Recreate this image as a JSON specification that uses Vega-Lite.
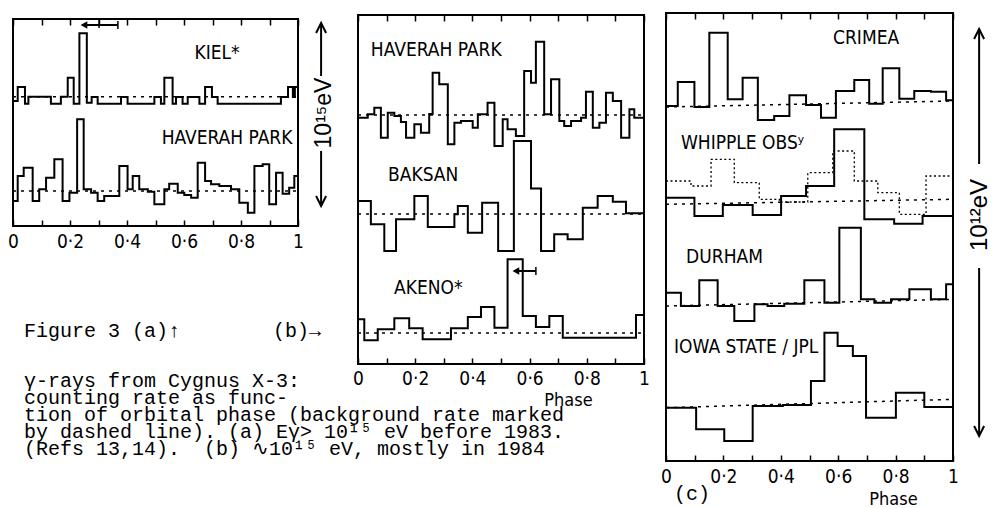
{
  "$schema": "https://vega.github.io/schema/vega-lite/v6.json",
  "background": "white",
  "padding": {"left": 7, "top": 12, "right": 0, "bottom": 0},
  "bounds": "flush",
  "spacing": 22,
  "config": {
    "view": {"stroke": null},
    "axis": {"labelFont": "Liberation Sans Narrow, DejaVu Sans Condensed, Liberation Sans, sans-serif", "labelFontSize": 19, "labelColor": "#000", "tickColor": "#000", "tickWidth": 1.5, "domain": false, "grid": false, "titleFont": "Liberation Sans Narrow, DejaVu Sans Condensed, Liberation Sans, sans-serif", "titleFontSize": 18, "titleFontWeight": "normal", "titleColor": "#000"},
    "text": {"color": "#000"}
  },
  "datasets": {
    "histA": [
      {"s":"KIEL","p":0,"v":125},{"s":"KIEL","p":0.0165,"v":139},{"s":"KIEL","p":0.042,"v":122.3},{"s":"KIEL","p":0.054,"v":129.3},{"s":"KIEL","p":0.133,"v":122.3},{"s":"KIEL","p":0.168,"v":129.3},{"s":"KIEL","p":0.192,"v":148.3},{"s":"KIEL","p":0.213,"v":122.3},{"s":"KIEL","p":0.233,"v":192.7},{"s":"KIEL","p":0.259,"v":123.3},{"s":"KIEL","p":0.276,"v":129},{"s":"KIEL","p":0.297,"v":122.3},{"s":"KIEL","p":0.379,"v":129},{"s":"KIEL","p":0.402,"v":122.3},{"s":"KIEL","p":0.496,"v":129},{"s":"KIEL","p":0.519,"v":122.3},{"s":"KIEL","p":0.531,"v":148.3},{"s":"KIEL","p":0.56,"v":122.3},{"s":"KIEL","p":0.572,"v":129},{"s":"KIEL","p":0.595,"v":122.3},{"s":"KIEL","p":0.613,"v":129},{"s":"KIEL","p":0.654,"v":122.3},{"s":"KIEL","p":0.674,"v":139},{"s":"KIEL","p":0.698,"v":129},{"s":"KIEL","p":0.718,"v":122.3},{"s":"KIEL","p":0.94,"v":129},{"s":"KIEL","p":0.965,"v":139},{"s":"KIEL","p":0.982,"v":129},{"s":"KIEL","p":0.989,"v":139},{"s":"KIEL","p":1,"v":139},
      {"s":"HP","p":0,"v":25},{"s":"HP","p":0.0165,"v":50},{"s":"HP","p":0.0375,"v":58.3},{"s":"HP","p":0.069,"v":25},{"s":"HP","p":0.092,"v":36.7},{"s":"HP","p":0.116,"v":48.3},{"s":"HP","p":0.145,"v":66.7},{"s":"HP","p":0.174,"v":25},{"s":"HP","p":0.198,"v":33.3},{"s":"HP","p":0.225,"v":106.7},{"s":"HP","p":0.248,"v":36.7},{"s":"HP","p":0.274,"v":33.3},{"s":"HP","p":0.297,"v":25},{"s":"HP","p":0.32,"v":30},{"s":"HP","p":0.373,"v":60},{"s":"HP","p":0.402,"v":36.7},{"s":"HP","p":0.42,"v":50},{"s":"HP","p":0.443,"v":36.7},{"s":"HP","p":0.473,"v":34.3},{"s":"HP","p":0.496,"v":21.7},{"s":"HP","p":0.531,"v":36.7},{"s":"HP","p":0.548,"v":42.3},{"s":"HP","p":0.578,"v":33.3},{"s":"HP","p":0.601,"v":31},{"s":"HP","p":0.625,"v":28.3},{"s":"HP","p":0.648,"v":63.3},{"s":"HP","p":0.674,"v":45},{"s":"HP","p":0.695,"v":41.7},{"s":"HP","p":0.724,"v":40},{"s":"HP","p":0.765,"v":36.7},{"s":"HP","p":0.794,"v":23.3},{"s":"HP","p":0.824,"v":13.3},{"s":"HP","p":0.847,"v":60},{"s":"HP","p":0.876,"v":61.7},{"s":"HP","p":0.899,"v":21.7},{"s":"HP","p":0.923,"v":53.3},{"s":"HP","p":0.946,"v":32.3},{"s":"HP","p":0.969,"v":38.3},{"s":"HP","p":0.987,"v":50},{"s":"HP","p":1,"v":50}
    ],
    "baseA": [{"s":"KIEL","v0":129.3,"v1":129.3},{"s":"HP","v0":35,"v1":35}],
    "labA": [{"t":"KIEL*","p":0.716,"v":167},{"t":"HAVERAH PARK","p":0.751,"v":82}],
    "capA": [
      {"t":"Figure 3 (a)↑","p":0.0386,"v":-105},
      {"t":"(b)→","p":0.912,"v":-105}
    ],
    "capBlock": [
      {"t":["γ-rays from Cygnus X-3:","counting rate as func-","tion of orbital phase (background rate marked","by dashed line). (a) Eγ> 10¹⁵ eV before 1983.","(Refs 13,14).\u00a0 (b) ∿10¹⁵ eV, mostly in 1984"],"p":0.0386,"v":-144.5}
    ],
    "errA": [{"p0":0.249,"p1":0.368,"v":201}],
    "errTickA": [{"p":0.302,"v":202},{"p":0.368,"v":201}],
    "sideRuleA": [{"p":1.081,"v0":150,"v1":203},{"p":1.081,"v0":20,"v1":75}],
    "sideArrowA": [{"p":1.081,"v":203,"d":"up"},{"p":1.081,"v":20,"d":"down"}],
    "sideTextA": [{"t":"10¹⁵eV","p":1.09,"v":113}],
    "histB": [
      {"s":"HP","p":0,"v":246.3},{"s":"HP","p":0.034,"v":249.7},{"s":"HP","p":0.057,"v":256.3},{"s":"HP","p":0.08,"v":226.3},{"s":"HP","p":0.104,"v":251.3},{"s":"HP","p":0.127,"v":248},{"s":"HP","p":0.15,"v":242},{"s":"HP","p":0.168,"v":226.3},{"s":"HP","p":0.197,"v":239.7},{"s":"HP","p":0.22,"v":231.3},{"s":"HP","p":0.249,"v":250},{"s":"HP","p":0.261,"v":291.3},{"s":"HP","p":0.284,"v":279.7},{"s":"HP","p":0.314,"v":219.7},{"s":"HP","p":0.337,"v":241.3},{"s":"HP","p":0.36,"v":243},{"s":"HP","p":0.401,"v":236.3},{"s":"HP","p":0.419,"v":249.7},{"s":"HP","p":0.453,"v":261.3},{"s":"HP","p":0.477,"v":218},{"s":"HP","p":0.506,"v":244.7},{"s":"HP","p":0.523,"v":234.7},{"s":"HP","p":0.552,"v":228},{"s":"HP","p":0.581,"v":293},{"s":"HP","p":0.605,"v":281.3},{"s":"HP","p":0.622,"v":322.3},{"s":"HP","p":0.651,"v":249.7},{"s":"HP","p":0.675,"v":284.7},{"s":"HP","p":0.704,"v":243},{"s":"HP","p":0.721,"v":238},{"s":"HP","p":0.745,"v":243},{"s":"HP","p":0.78,"v":246.3},{"s":"HP","p":0.797,"v":272.3},{"s":"HP","p":0.821,"v":236.3},{"s":"HP","p":0.844,"v":241.3},{"s":"HP","p":0.867,"v":271.3},{"s":"HP","p":0.891,"v":263},{"s":"HP","p":0.92,"v":226.3},{"s":"HP","p":0.949,"v":254.7},{"s":"HP","p":0.966,"v":246.3},{"s":"HP","p":1,"v":246.3},
      {"s":"BAKSAN","p":0,"v":163},{"s":"BAKSAN","p":0.045,"v":139.7},{"s":"BAKSAN","p":0.092,"v":113},{"s":"BAKSAN","p":0.133,"v":144.7},{"s":"BAKSAN","p":0.197,"v":168},{"s":"BAKSAN","p":0.244,"v":137},{"s":"BAKSAN","p":0.337,"v":149.7},{"s":"BAKSAN","p":0.349,"v":158},{"s":"BAKSAN","p":0.384,"v":131.3},{"s":"BAKSAN","p":0.434,"v":161.3},{"s":"BAKSAN","p":0.49,"v":113},{"s":"BAKSAN","p":0.545,"v":223},{"s":"BAKSAN","p":0.605,"v":175.5},{"s":"BAKSAN","p":0.64,"v":113},{"s":"BAKSAN","p":0.686,"v":129.7},{"s":"BAKSAN","p":0.733,"v":124.7},{"s":"BAKSAN","p":0.786,"v":156.3},{"s":"BAKSAN","p":0.838,"v":168},{"s":"BAKSAN","p":0.891,"v":162.3},{"s":"BAKSAN","p":0.937,"v":150.7},{"s":"BAKSAN","p":1,"v":150.7},
      {"s":"AKENO","p":0,"v":44.7},{"s":"AKENO","p":0.022,"v":23.7},{"s":"AKENO","p":0.069,"v":34.7},{"s":"AKENO","p":0.127,"v":45.7},{"s":"AKENO","p":0.179,"v":35.7},{"s":"AKENO","p":0.226,"v":24.7},{"s":"AKENO","p":0.325,"v":35.7},{"s":"AKENO","p":0.384,"v":47},{"s":"AKENO","p":0.43,"v":57},{"s":"AKENO","p":0.477,"v":36.3},{"s":"AKENO","p":0.523,"v":104.7},{"s":"AKENO","p":0.576,"v":48},{"s":"AKENO","p":0.622,"v":37},{"s":"AKENO","p":0.669,"v":48},{"s":"AKENO","p":0.716,"v":26.3},{"s":"AKENO","p":0.972,"v":49},{"s":"AKENO","p":1,"v":49}
    ],
    "baseB": [{"s":"HP","v0":249,"v1":249},{"s":"BAKSAN","v0":150,"v1":150},{"s":"AKENO","v0":31,"v1":31}],
    "labB": [{"t":"HAVERAH PARK","p":0.045,"v":308},{"t":"BAKSAN","p":0.105,"v":183},{"t":"AKENO*","p":0.126,"v":70}],
    "errB": [{"p0":0.552,"p1":0.622,"v":93}],
    "errTickB": [{"p":0.622,"v":93}],
    "histC": [
      {"s":"CRIMEA","p":0,"v":355},{"s":"CRIMEA","p":0.041,"v":379},{"s":"CRIMEA","p":0.099,"v":354},{"s":"CRIMEA","p":0.151,"v":428.3},{"s":"CRIMEA","p":0.215,"v":361.7},{"s":"CRIMEA","p":0.267,"v":383.3},{"s":"CRIMEA","p":0.32,"v":341},{"s":"CRIMEA","p":0.377,"v":345},{"s":"CRIMEA","p":0.43,"v":365.7},{"s":"CRIMEA","p":0.488,"v":356},{"s":"CRIMEA","p":0.54,"v":343.3},{"s":"CRIMEA","p":0.592,"v":370},{"s":"CRIMEA","p":0.656,"v":381},{"s":"CRIMEA","p":0.708,"v":357.3},{"s":"CRIMEA","p":0.755,"v":392.7},{"s":"CRIMEA","p":0.813,"v":362.3},{"s":"CRIMEA","p":0.865,"v":370},{"s":"CRIMEA","p":0.923,"v":369.3},{"s":"CRIMEA","p":0.976,"v":360.7},{"s":"CRIMEA","p":1,"v":360.7},
      {"s":"WHIPPLE","p":0,"v":263.3},{"s":"WHIPPLE","p":0.099,"v":245},{"s":"WHIPPLE","p":0.198,"v":256},{"s":"WHIPPLE","p":0.302,"v":246},{"s":"WHIPPLE","p":0.401,"v":265},{"s":"WHIPPLE","p":0.488,"v":275},{"s":"WHIPPLE","p":0.586,"v":331.7},{"s":"WHIPPLE","p":0.691,"v":241.7},{"s":"WHIPPLE","p":0.795,"v":237.3},{"s":"WHIPPLE","p":0.894,"v":245},{"s":"WHIPPLE","p":1,"v":245},
      {"s":"DURHAM","p":0,"v":168.3},{"s":"DURHAM","p":0.052,"v":155},{"s":"DURHAM","p":0.116,"v":180.7},{"s":"DURHAM","p":0.18,"v":155},{"s":"DURHAM","p":0.238,"v":140},{"s":"DURHAM","p":0.308,"v":156.7},{"s":"DURHAM","p":0.354,"v":155},{"s":"DURHAM","p":0.412,"v":157.3},{"s":"DURHAM","p":0.482,"v":180.7},{"s":"DURHAM","p":0.552,"v":158.3},{"s":"DURHAM","p":0.604,"v":233.3},{"s":"DURHAM","p":0.679,"v":161.7},{"s":"DURHAM","p":0.726,"v":158.3},{"s":"DURHAM","p":0.784,"v":161.7},{"s":"DURHAM","p":0.848,"v":171.7},{"s":"DURHAM","p":0.923,"v":161.7},{"s":"DURHAM","p":0.976,"v":176.7},{"s":"DURHAM","p":1,"v":176.7},
      {"s":"IOWA","p":0,"v":53.3},{"s":"IOWA","p":0.105,"v":31.7},{"s":"IOWA","p":0.203,"v":20},{"s":"IOWA","p":0.302,"v":55},{"s":"IOWA","p":0.407,"v":56},{"s":"IOWA","p":0.505,"v":80},{"s":"IOWA","p":0.552,"v":128.3},{"s":"IOWA","p":0.598,"v":115},{"s":"IOWA","p":0.651,"v":105},{"s":"IOWA","p":0.697,"v":43.3},{"s":"IOWA","p":0.801,"v":68.3},{"s":"IOWA","p":0.9,"v":54},{"s":"IOWA","p":1,"v":54}
    ],
    "dotC": [
      {"s":"WHIPPLE 2","p":0,"v":280},{"s":"WHIPPLE 2","p":0.087,"v":275},{"s":"WHIPPLE 2","p":0.157,"v":301.7},{"s":"WHIPPLE 2","p":0.238,"v":278.3},{"s":"WHIPPLE 2","p":0.325,"v":261.7},{"s":"WHIPPLE 2","p":0.395,"v":259},{"s":"WHIPPLE 2","p":0.494,"v":288.3},{"s":"WHIPPLE 2","p":0.581,"v":310},{"s":"WHIPPLE 2","p":0.656,"v":280},{"s":"WHIPPLE 2","p":0.738,"v":268.3},{"s":"WHIPPLE 2","p":0.813,"v":246.7},{"s":"WHIPPLE 2","p":0.906,"v":285},{"s":"WHIPPLE 2","p":1,"v":285}
    ],
    "baseC": [{"s":"CRIMEA","v0":354,"v1":360},{"s":"WHIPPLE","v0":256.7,"v1":261.7},{"s":"DURHAM","v0":155,"v1":161.7},{"s":"IOWA","v0":53.3,"v1":61.7}],
    "labC": [{"t":"CRIMEA","p":0.582,"v":417},{"t":"WHIPPLE OBSʸ","p":0.052,"v":312},{"t":"DURHAM","p":0.07,"v":198},{"t":"IOWA STATE / JPL","p":0.028,"v":108}],
    "capC": [{"t":"(c)","p":0.028,"v":-33}],
    "sideRuleC": [{"p":1.091,"v0":297,"v1":432},{"p":1.091,"v0":25,"v1":193}],
    "sideArrowC": [{"p":1.091,"v":432,"d":"up"},{"p":1.091,"v":25,"d":"down"}],
    "sideTextC": [{"t":"10¹²eV","p":1.094,"v":246}]
  },
  "hconcat": [
    {
      "width": 323, "height": 213,
      "layer": [
        {"data": {"values": [{}]}, "mark": {"type": "rect", "filled": false, "color": "#000", "strokeWidth": 2},
         "encoding": {"x": {"datum": 0, "type": "quantitative", "scale": {"domain": [0, 1.1333], "nice": false, "zero": false}, "axis": null}, "x2": {"datum": 1},
                      "y": {"datum": 0, "type": "quantitative", "scale": {"domain": [0, 213], "nice": false, "zero": false}, "axis": null}, "y2": {"datum": 207}}},
        {"data": {"name": "histA"}, "mark": {"type": "line", "interpolate": "step-after", "color": "#000", "strokeWidth": 2},
         "encoding": {"x": {"field": "p", "type": "quantitative", "scale": {"domain": [0, 1.1333], "nice": false, "zero": false},
                            "axis": {"orient": "bottom", "values": [0,0.1,0.2,0.3,0.4,0.5,0.6,0.7,0.8,0.9,1], "labelExpr": "datum.value == 0 ? '0' : datum.value == 1 ? '1' : (round(datum.value*10) % 2 == 0 ? '0·' + round(datum.value*10) : '')", "tickSize": -6, "labelPadding": 12, "labelOverlap": false, "labelFlush": false, "title": null}},
                      "y": {"field": "v", "type": "quantitative", "scale": {"domain": [0, 213], "nice": false, "zero": false}, "axis": null},
                      "detail": {"field": "s"}}},
        {"data": {"name": "baseA"}, "mark": {"type": "rule", "color": "#000", "strokeWidth": 1.5, "strokeDash": [3, 5]},
         "encoding": {"x": {"datum": 0, "type": "quantitative", "scale": {"domain": [0, 1.1333], "nice": false, "zero": false}, "axis": null}, "x2": {"datum": 1},
                      "y": {"field": "v0", "type": "quantitative", "scale": {"domain": [0, 213], "nice": false, "zero": false}, "axis": null}, "y2": {"field": "v1"}}},
        {"data": {"name": "labA"}, "mark": {"type": "text", "align": "center", "baseline": "alphabetic", "font": "Liberation Sans Narrow, DejaVu Sans Condensed, Liberation Sans, sans-serif", "fontSize": 19},
         "encoding": {"x": {"field": "p", "type": "quantitative", "scale": {"domain": [0, 1.1333], "nice": false, "zero": false},
                            "axis": {"orient": "top", "values": [0,0.1,0.2,0.3,0.4,0.5,0.6,0.7,0.8,0.9,1], "labels": false, "tickSize": -6, "offset": -6, "title": null}},
                      "y": {"field": "v", "type": "quantitative", "scale": {"domain": [0, 213], "nice": false, "zero": false}, "axis": null},
                      "text": {"field": "t"}}},
        {"data": {"name": "capA"}, "mark": {"type": "text", "align": "left", "baseline": "middle", "font": "Liberation Mono, DejaVu Sans Mono, monospace", "fontSize": 20},
         "encoding": {"x": {"field": "p", "type": "quantitative", "scale": {"domain": [0, 1.1333], "nice": false, "zero": false}, "axis": null},
                      "y": {"field": "v", "type": "quantitative", "scale": {"domain": [0, 213], "nice": false, "zero": false}, "axis": null},
                      "text": {"field": "t"}}},
        {"data": {"name": "capBlock"}, "mark": {"type": "text", "align": "left", "baseline": "top", "lineHeight": 17, "font": "Liberation Mono, DejaVu Sans Mono, monospace", "fontSize": 20},
         "encoding": {"x": {"field": "p", "type": "quantitative", "scale": {"domain": [0, 1.1333], "nice": false, "zero": false}, "axis": null},
                      "y": {"field": "v", "type": "quantitative", "scale": {"domain": [0, 213], "nice": false, "zero": false}, "axis": null},
                      "text": {"field": "t"}}},
        {"data": {"name": "errA"}, "mark": {"type": "rule", "color": "#000", "strokeWidth": 2},
         "encoding": {"x": {"field": "p0", "type": "quantitative", "scale": {"domain": [0, 1.1333], "nice": false, "zero": false}, "axis": null}, "x2": {"field": "p1"},
                      "y": {"field": "v", "type": "quantitative", "scale": {"domain": [0, 213], "nice": false, "zero": false}, "axis": null}}},
        {"data": {"name": "errA"}, "mark": {"type": "point", "shape": "triangle-left", "filled": true, "color": "#000", "size": 60, "opacity": 1},
         "encoding": {"x": {"field": "p0", "type": "quantitative", "scale": {"domain": [0, 1.1333], "nice": false, "zero": false}, "axis": null},
                      "y": {"field": "v", "type": "quantitative", "scale": {"domain": [0, 213], "nice": false, "zero": false}, "axis": null}}},
        {"data": {"name": "errTickA"}, "mark": {"type": "tick", "orient": "vertical", "size": 8, "thickness": 1.5, "color": "#000", "opacity": 1},
         "encoding": {"x": {"field": "p", "type": "quantitative", "scale": {"domain": [0, 1.1333], "nice": false, "zero": false}, "axis": null},
                      "y": {"field": "v", "type": "quantitative", "scale": {"domain": [0, 213], "nice": false, "zero": false}, "axis": null}}},
        {"data": {"name": "sideRuleA"}, "mark": {"type": "rule", "color": "#000", "strokeWidth": 2},
         "encoding": {"x": {"field": "p", "type": "quantitative", "scale": {"domain": [0, 1.1333], "nice": false, "zero": false}, "axis": null},
                      "y": {"field": "v0", "type": "quantitative", "scale": {"domain": [0, 213], "nice": false, "zero": false}, "axis": null}, "y2": {"field": "v1"}}},
        {"data": {"name": "sideArrowA"}, "mark": {"type": "point", "filled": false, "color": "#000", "strokeWidth": 2, "size": 400, "opacity": 1},
         "encoding": {"x": {"field": "p", "type": "quantitative", "scale": {"domain": [0, 1.1333], "nice": false, "zero": false}, "axis": null},
                      "y": {"field": "v", "type": "quantitative", "scale": {"domain": [0, 213], "nice": false, "zero": false}, "axis": null},
                      "shape": {"field": "d", "type": "nominal", "scale": {"domain": ["up", "down"], "range": ["M-0.5,1L0,0L0.5,1", "M-0.5,-1L0,0L0.5,-1"]}, "legend": null}}},
        {"data": {"name": "sideTextA"}, "mark": {"type": "text", "align": "center", "baseline": "middle", "angle": 270, "font": "Liberation Sans, Arial, sans-serif", "fontSize": 23},
         "encoding": {"x": {"field": "p", "type": "quantitative", "scale": {"domain": [0, 1.1333], "nice": false, "zero": false}, "axis": null},
                      "y": {"field": "v", "type": "quantitative", "scale": {"domain": [0, 213], "nice": false, "zero": false}, "axis": null},
                      "text": {"field": "t"}}}
      ]
    },
    {
      "width": 286, "height": 351,
      "layer": [
        {"data": {"values": [{}]}, "mark": {"type": "rect", "filled": false, "color": "#000", "strokeWidth": 2},
         "encoding": {"x": {"datum": 0, "type": "quantitative", "scale": {"domain": [0, 1], "nice": false, "zero": false}, "axis": null}, "x2": {"datum": 1},
                      "y": {"datum": 0, "type": "quantitative", "scale": {"domain": [0, 351], "nice": false, "zero": false}, "axis": null}, "y2": {"datum": 349}}},
        {"data": {"name": "histB"}, "mark": {"type": "line", "interpolate": "step-after", "color": "#000", "strokeWidth": 2},
         "encoding": {"x": {"field": "p", "type": "quantitative", "scale": {"domain": [0, 1], "nice": false, "zero": false},
                            "axis": {"orient": "bottom", "values": [0,0.1,0.2,0.3,0.4,0.5,0.6,0.7,0.8,0.9,1], "labelExpr": "datum.value == 0 ? '0' : datum.value == 1 ? '1' : (round(datum.value*10) % 2 == 0 ? '0·' + round(datum.value*10) : '')", "tickSize": -6, "labelPadding": 11, "labelOverlap": false, "labelFlush": false,
                                     "title": "Phase", "titleX": 210, "titleY": 36, "titleAlign": "center", "titleBaseline": "middle"}},
                      "y": {"field": "v", "type": "quantitative", "scale": {"domain": [0, 351], "nice": false, "zero": false}, "axis": null},
                      "detail": {"field": "s"}}},
        {"data": {"name": "baseB"}, "mark": {"type": "rule", "color": "#000", "strokeWidth": 1.5, "strokeDash": [3, 5]},
         "encoding": {"x": {"datum": 0, "type": "quantitative", "scale": {"domain": [0, 1], "nice": false, "zero": false}, "axis": null}, "x2": {"datum": 1},
                      "y": {"field": "v0", "type": "quantitative", "scale": {"domain": [0, 351], "nice": false, "zero": false}, "axis": null}, "y2": {"field": "v1"}}},
        {"data": {"name": "labB"}, "mark": {"type": "text", "align": "left", "baseline": "alphabetic", "font": "Liberation Sans Narrow, DejaVu Sans Condensed, Liberation Sans, sans-serif", "fontSize": 19},
         "encoding": {"x": {"field": "p", "type": "quantitative", "scale": {"domain": [0, 1], "nice": false, "zero": false},
                            "axis": {"orient": "top", "values": [0,0.1,0.2,0.3,0.4,0.5,0.6,0.7,0.8,0.9,1], "labels": false, "tickSize": -6, "offset": -2, "title": null}},
                      "y": {"field": "v", "type": "quantitative", "scale": {"domain": [0, 351], "nice": false, "zero": false}, "axis": null},
                      "text": {"field": "t"}}},
        {"data": {"name": "errB"}, "mark": {"type": "rule", "color": "#000", "strokeWidth": 2},
         "encoding": {"x": {"field": "p0", "type": "quantitative", "scale": {"domain": [0, 1], "nice": false, "zero": false}, "axis": null}, "x2": {"field": "p1"},
                      "y": {"field": "v", "type": "quantitative", "scale": {"domain": [0, 351], "nice": false, "zero": false}, "axis": null}}},
        {"data": {"name": "errB"}, "mark": {"type": "point", "shape": "triangle-left", "filled": true, "color": "#000", "size": 60, "opacity": 1},
         "encoding": {"x": {"field": "p0", "type": "quantitative", "scale": {"domain": [0, 1], "nice": false, "zero": false}, "axis": null},
                      "y": {"field": "v", "type": "quantitative", "scale": {"domain": [0, 351], "nice": false, "zero": false}, "axis": null}}},
        {"data": {"name": "errTickB"}, "mark": {"type": "tick", "orient": "vertical", "size": 8, "thickness": 1.5, "color": "#000", "opacity": 1},
         "encoding": {"x": {"field": "p", "type": "quantitative", "scale": {"domain": [0, 1], "nice": false, "zero": false}, "axis": null},
                      "y": {"field": "v", "type": "quantitative", "scale": {"domain": [0, 351], "nice": false, "zero": false}, "axis": null}}}
      ]
    },
    {
      "width": 287, "height": 448,
      "layer": [
        {"data": {"values": [{}]}, "mark": {"type": "rect", "filled": false, "color": "#000", "strokeWidth": 2},
         "encoding": {"x": {"datum": 0, "type": "quantitative", "scale": {"domain": [0, 1], "nice": false, "zero": false}, "axis": null}, "x2": {"datum": 1},
                      "y": {"datum": 0, "type": "quantitative", "scale": {"domain": [0, 448], "nice": false, "zero": false}, "axis": null}, "y2": {"datum": 448}}},
        {"data": {"name": "histC"}, "mark": {"type": "line", "interpolate": "step-after", "color": "#000", "strokeWidth": 2},
         "encoding": {"x": {"field": "p", "type": "quantitative", "scale": {"domain": [0, 1], "nice": false, "zero": false},
                            "axis": {"orient": "bottom", "values": [0,0.1,0.2,0.3,0.4,0.5,0.6,0.7,0.8,0.9,1], "labelExpr": "datum.value == 0 ? '0' : datum.value == 1 ? '1' : (round(datum.value*10) % 2 == 0 ? '0·' + round(datum.value*10) : '')", "tickSize": -6, "labelPadding": 12, "labelOverlap": false, "labelFlush": false,
                                     "title": "Phase", "titleX": 227, "titleY": 38, "titleAlign": "center", "titleBaseline": "middle"}},
                      "y": {"field": "v", "type": "quantitative", "scale": {"domain": [0, 448], "nice": false, "zero": false}, "axis": null},
                      "detail": {"field": "s"}}},
        {"data": {"name": "dotC"}, "mark": {"type": "line", "interpolate": "step-after", "color": "#000", "strokeWidth": 1.3, "strokeDash": [2, 2.5]},
         "encoding": {"x": {"field": "p", "type": "quantitative", "scale": {"domain": [0, 1], "nice": false, "zero": false}, "axis": null},
                      "y": {"field": "v", "type": "quantitative", "scale": {"domain": [0, 448], "nice": false, "zero": false}, "axis": null},
                      "detail": {"field": "s"}}},
        {"data": {"name": "baseC"}, "mark": {"type": "rule", "color": "#000", "strokeWidth": 1.5, "strokeDash": [3, 5]},
         "encoding": {"x": {"datum": 0, "type": "quantitative", "scale": {"domain": [0, 1], "nice": false, "zero": false}, "axis": null}, "x2": {"datum": 1},
                      "y": {"field": "v0", "type": "quantitative", "scale": {"domain": [0, 448], "nice": false, "zero": false}, "axis": null}, "y2": {"field": "v1"}}},
        {"data": {"name": "labC"}, "mark": {"type": "text", "align": "left", "baseline": "alphabetic", "font": "Liberation Sans Narrow, DejaVu Sans Condensed, Liberation Sans, sans-serif", "fontSize": 19},
         "encoding": {"x": {"field": "p", "type": "quantitative", "scale": {"domain": [0, 1], "nice": false, "zero": false},
                            "axis": {"orient": "top", "values": [0,0.1,0.2,0.3,0.4,0.5,0.6,0.7,0.8,0.9,1], "labels": false, "tickSize": -6, "offset": 0, "title": null}},
                      "y": {"field": "v", "type": "quantitative", "scale": {"domain": [0, 448], "nice": false, "zero": false}, "axis": null},
                      "text": {"field": "t"}}},
        {"data": {"name": "capC"}, "mark": {"type": "text", "align": "left", "baseline": "middle", "font": "Liberation Mono, DejaVu Sans Mono, monospace", "fontSize": 20},
         "encoding": {"x": {"field": "p", "type": "quantitative", "scale": {"domain": [0, 1], "nice": false, "zero": false}, "axis": null},
                      "y": {"field": "v", "type": "quantitative", "scale": {"domain": [0, 448], "nice": false, "zero": false}, "axis": null},
                      "text": {"field": "t"}}},
        {"data": {"name": "sideRuleC"}, "mark": {"type": "rule", "color": "#000", "strokeWidth": 2},
         "encoding": {"x": {"field": "p", "type": "quantitative", "scale": {"domain": [0, 1], "nice": false, "zero": false}, "axis": null},
                      "y": {"field": "v0", "type": "quantitative", "scale": {"domain": [0, 448], "nice": false, "zero": false}, "axis": null}, "y2": {"field": "v1"}}},
        {"data": {"name": "sideArrowC"}, "mark": {"type": "point", "filled": false, "color": "#000", "strokeWidth": 2, "size": 400, "opacity": 1},
         "encoding": {"x": {"field": "p", "type": "quantitative", "scale": {"domain": [0, 1], "nice": false, "zero": false}, "axis": null},
                      "y": {"field": "v", "type": "quantitative", "scale": {"domain": [0, 448], "nice": false, "zero": false}, "axis": null},
                      "shape": {"field": "d", "type": "nominal", "scale": {"domain": ["up", "down"], "range": ["M-0.5,1L0,0L0.5,1", "M-0.5,-1L0,0L0.5,-1"]}, "legend": null}}},
        {"data": {"name": "sideTextC"}, "mark": {"type": "text", "align": "center", "baseline": "middle", "angle": 270, "font": "Liberation Sans, Arial, sans-serif", "fontSize": 24},
         "encoding": {"x": {"field": "p", "type": "quantitative", "scale": {"domain": [0, 1], "nice": false, "zero": false}, "axis": null},
                      "y": {"field": "v", "type": "quantitative", "scale": {"domain": [0, 448], "nice": false, "zero": false}, "axis": null},
                      "text": {"field": "t"}}}
      ]
    }
  ]
}
